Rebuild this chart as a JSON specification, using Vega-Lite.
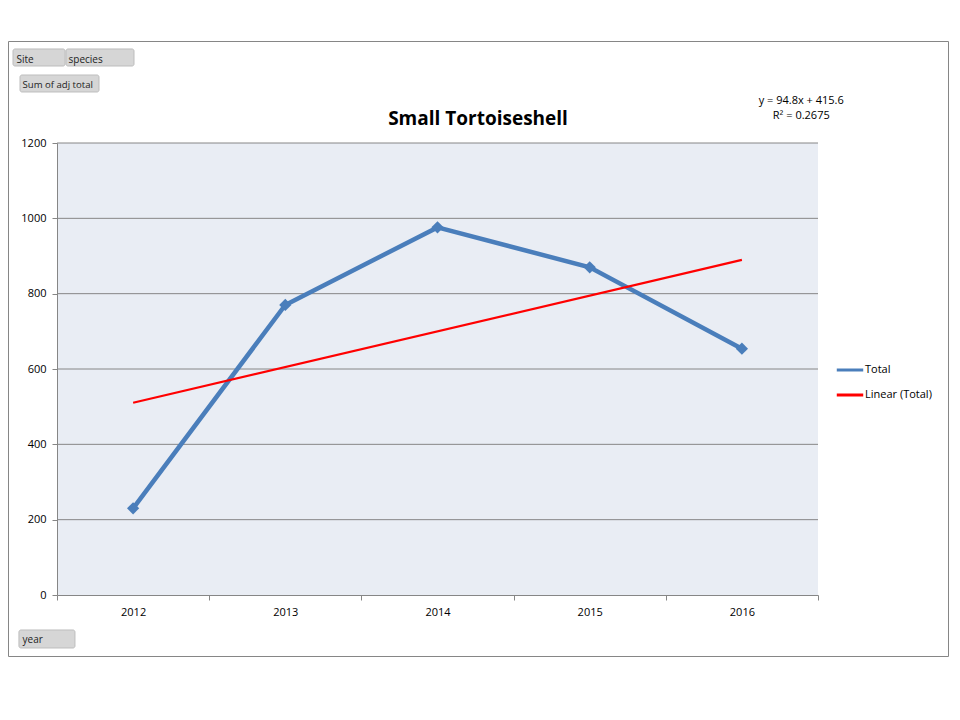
{
  "$schema": "https://vega.github.io/schema/vega-lite/v6.json",
  "autosize": {"type": "none"},
  "width": 940,
  "height": 615,
  "padding": {"left": 8, "top": 41, "right": 12, "bottom": 64},
  "background": "white",
  "view": {"stroke": "#868686", "strokeWidth": 1, "fill": "white"},
  "title": {
    "text": "Small Tortoiseshell",
    "anchor": "middle",
    "frame": "group",
    "offset": -88,
    "font": "Open Sans",
    "fontSize": 19,
    "fontWeight": "bold",
    "color": "#000000"
  },
  "datasets": {
    "series": [
      {"year": 2012, "series": "Total", "value": 230},
      {"year": 2013, "series": "Total", "value": 770},
      {"year": 2014, "series": "Total", "value": 976},
      {"year": 2015, "series": "Total", "value": 870},
      {"year": 2016, "series": "Total", "value": 654},
      {"year": 2012, "series": "Linear (Total)", "value": 510.4},
      {"year": 2016, "series": "Linear (Total)", "value": 889.6}
    ],
    "grid": [
      {"v": 200}, {"v": 400}, {"v": 600}, {"v": 800}, {"v": 1000}, {"v": 1200}
    ],
    "note": [
      {"label": "y = 94.8x + 415.6\nR² = 0.2675"}
    ],
    "one": [{"k": 1}]
  },
  "data": {"name": "series"},
  "layer": [
    {
      "mark": {"type": "rect", "fill": "#E9EDF4", "stroke": null},
      "encoding": {
        "x": {
          "datum": 2011.5, "type": "quantitative",
          "scale": {"domain": [2011.5, 2016.5], "range": [49, 810], "nice": false, "zero": false},
          "axis": {
            "orient": "bottom",
            "offset": -61,
            "zindex": 1,
            "values": [2011.5, 2012.5, 2013.5, 2014.5, 2015.5, 2016.5],
            "labels": false,
            "ticks": true, "tickSize": 5, "tickColor": "#868686", "tickWidth": 1,
            "domain": true, "domainColor": "#868686", "domainWidth": 1,
            "grid": false,
            "title": "Site",
            "titleX": 8, "titleY": -536,
            "titleAlign": "left", "titleBaseline": "middle",
            "titleFont": "Open Sans", "titleFontSize": 10, "titleFontWeight": "normal", "titleColor": "#222222"
          }
        },
        "x2": {"datum": 2016.5},
        "y": {
          "datum": 0, "type": "quantitative",
          "scale": {"domain": [0, 1200], "range": [554, 102], "nice": false, "zero": true},
          "axis": {
            "orient": "left",
            "offset": -49,
            "zindex": 1,
            "values": [0, 200, 400, 600, 800, 1000, 1200],
            "format": "d",
            "labelFont": "Open Sans", "labelFontSize": 11, "labelColor": "#000000", "labelPadding": 6,
            "ticks": true, "tickSize": 5, "tickColor": "#868686",
            "domain": true, "domainColor": "#868686",
            "grid": false,
            "title": "Sum of adj total",
            "titleAngle": 0, "titleX": -35, "titleY": 43,
            "titleAlign": "left", "titleBaseline": "middle",
            "titleFont": "Open Sans", "titleFontSize": 9.6, "titleFontWeight": "normal", "titleColor": "#222222"
          }
        },
        "y2": {"datum": 1200}
      }
    },
    {
      "data": {"name": "one"},
      "mark": {"type": "rect", "fill": "#D6D6D6", "stroke": "#BDBDBD", "strokeWidth": 1, "cornerRadius": 2},
      "encoding": {
        "x": {"datum": 2011.211, "type": "quantitative", "axis": null},
        "x2": {"datum": 2011.553},
        "y": {"datum": 1449.6, "type": "quantitative", "axis": null},
        "y2": {"datum": 1404.4}
      }
    },
    {
      "data": {"name": "one"},
      "mark": {"type": "rect", "fill": "#D6D6D6", "stroke": "#BDBDBD", "strokeWidth": 1, "cornerRadius": 2},
      "encoding": {
        "x": {"datum": 2011.559, "type": "quantitative", "axis": null},
        "x2": {"datum": 2012.006},
        "y": {"datum": 1449.6, "type": "quantitative", "axis": null},
        "y2": {"datum": 1404.4}
      }
    },
    {
      "data": {"name": "one"},
      "mark": {"type": "rect", "fill": "#D6D6D6", "stroke": "#BDBDBD", "strokeWidth": 1, "cornerRadius": 2},
      "encoding": {
        "x": {"datum": 2011.257, "type": "quantitative", "axis": null},
        "x2": {"datum": 2011.776},
        "y": {"datum": 1380.5, "type": "quantitative", "axis": null},
        "y2": {"datum": 1335.4}
      }
    },
    {
      "data": {"name": "one"},
      "mark": {"type": "rect", "fill": "#D6D6D6", "stroke": "#BDBDBD", "strokeWidth": 1, "cornerRadius": 2},
      "encoding": {
        "x": {"datum": 2011.25, "type": "quantitative", "axis": null},
        "x2": {"datum": 2011.618},
        "y": {"datum": -92.9, "type": "quantitative", "axis": null},
        "y2": {"datum": -140.7}
      }
    },
    {
      "data": {"name": "grid"},
      "mark": {"type": "rule", "color": "#868686", "strokeWidth": 1},
      "encoding": {
        "x": {"datum": 2011.5, "type": "quantitative", "axis": null},
        "x2": {"datum": 2016.5},
        "y": {"field": "v", "type": "quantitative", "axis": null}
      }
    },
    {
      "transform": [{"filter": "datum.series === 'Total'"}],
      "mark": {"type": "line", "strokeWidth": 4.5},
      "encoding": {
        "x": {
          "field": "year", "type": "quantitative",
          "scale": {"domain": [2011.5, 2016.5], "range": [49, 810], "nice": false, "zero": false},
          "axis": {
            "orient": "bottom",
            "offset": -61,
            "zindex": 1,
            "values": [2012, 2013, 2014, 2015, 2016],
            "format": "d",
            "ticks": false, "domain": false, "grid": false,
            "labelFont": "Open Sans", "labelFontSize": 11, "labelColor": "#000000", "labelPadding": 11,
            "title": "year",
            "titleX": 14, "titleY": 44,
            "titleAlign": "left", "titleBaseline": "middle",
            "titleFont": "Open Sans", "titleFontSize": 10, "titleFontWeight": "normal", "titleColor": "#222222"
          }
        },
        "y": {
          "field": "value", "type": "quantitative",
          "scale": {"domain": [0, 1200], "range": [554, 102], "nice": false, "zero": true},
          "axis": {
            "orient": "right",
            "zindex": 1,
            "labels": false, "ticks": false, "domain": false, "grid": false,
            "title": "species",
            "titleAngle": 0, "titleX": -880, "titleY": 18,
            "titleAlign": "left", "titleBaseline": "middle",
            "titleFont": "Open Sans", "titleFontSize": 10, "titleFontWeight": "normal", "titleColor": "#222222"
          }
        },
        "color": {
          "field": "series", "type": "nominal",
          "scale": {"domain": ["Total", "Linear (Total)"], "range": ["#4A7EBB", "#FF0000"]},
          "legend": {
            "orient": "none", "legendX": 827, "legendY": 314,
            "title": null, "padding": 0,
            "symbolType": "stroke", "symbolSize": 700, "symbolStrokeWidth": 3,
            "labelFont": "Open Sans", "labelFontSize": 11, "labelColor": "#000000", "labelOffset": 0,
            "rowPadding": 4
          }
        }
      }
    },
    {
      "transform": [{"filter": "datum.series === 'Total'"}],
      "mark": {"type": "point", "shape": "diamond", "filled": true, "size": 150, "opacity": 1, "color": "#4A7EBB"},
      "encoding": {
        "x": {"field": "year", "type": "quantitative", "axis": null},
        "y": {"field": "value", "type": "quantitative", "axis": null}
      }
    },
    {
      "transform": [{"filter": "datum.series === 'Linear (Total)'"}],
      "mark": {"type": "line", "strokeWidth": 2.2},
      "encoding": {
        "x": {"field": "year", "type": "quantitative", "axis": null},
        "y": {"field": "value", "type": "quantitative", "axis": null},
        "color": {"field": "series", "type": "nominal"}
      }
    },
    {
      "data": {"name": "note"},
      "mark": {"type": "text", "align": "center", "baseline": "middle", "lineBreak": "\n", "lineHeight": 15, "font": "Open Sans", "fontSize": 11, "color": "#000000"},
      "encoding": {
        "x": {"datum": 2016.39, "type": "quantitative", "axis": null},
        "y": {"datum": 1311, "type": "quantitative", "axis": null},
        "text": {"field": "label"}
      }
    }
  ],
  "resolve": {"axis": {"x": "independent", "y": "independent"}}
}
